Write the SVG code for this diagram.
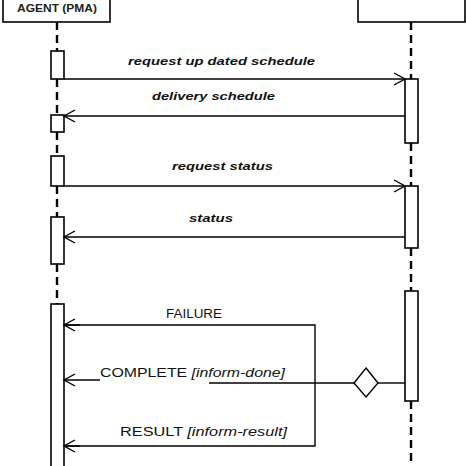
<svg xmlns="http://www.w3.org/2000/svg" width="466" height="466" viewBox="0 0 466 466">
<style>
.box{fill:#fff;stroke:#000;stroke-width:1.6}
.life{stroke:#000;stroke-width:2.4;stroke-dasharray:8 5;fill:none}
.msg{stroke:#000;stroke-width:1.4;fill:none}
.lbl{font-family:"Liberation Sans",Arial,sans-serif;font-size:11px;font-style:italic;font-weight:bold;fill:#111}
.lblr{font-family:"Liberation Sans",Arial,sans-serif;font-size:12px;fill:#111}
.head{font-family:"Liberation Sans",Arial,sans-serif;font-size:10px;font-weight:bold;fill:#222}
</style>
<defs>
<marker id="open" markerWidth="14" markerHeight="14" refX="12" refY="7" orient="auto" markerUnits="userSpaceOnUse">
<path d="M1,1 L12,7 L1,13" fill="none" stroke="#000" stroke-width="1.4"/>
</marker>
</defs>
<g id="lifelines">
<path class="life" d="M57,22 V51 M57,79 V115 M57,132 V156 M57,186 V217 M57,264 V304"/>
<path class="life" d="M411,22 V79 M411,143 V186 M411,248 V291 M411,401 V466"/>
</g>
<g id="agent-pma">
<rect class="box" x="3" y="-5" width="107" height="27"/>
<text class="head" x="57" y="12" text-anchor="middle" textLength="80" lengthAdjust="spacingAndGlyphs">AGENT (PMA)</text>
</g>
<g id="other-agent">
<rect class="box" x="358" y="-5" width="107" height="27"/>
</g>
<g id="activations">
<rect class="box" x="51" y="51" width="13" height="28"/>
<rect class="box" x="51" y="115" width="13" height="17"/>
<rect class="box" x="51" y="156" width="13" height="30"/>
<rect class="box" x="51" y="217" width="13" height="47"/>
<rect class="box" x="51" y="304" width="13" height="170"/>
<rect class="box" x="405" y="79" width="13" height="64"/>
<rect class="box" x="405" y="186" width="13" height="62"/>
<rect class="box" x="405" y="291" width="13" height="110"/>
</g>
<g id="connectors">
<line class="msg" x1="64" y1="79" x2="405" y2="79" marker-end="url(#open)"/>
<line class="msg" x1="405" y1="116" x2="64" y2="116" marker-end="url(#open)"/>
<line class="msg" x1="64" y1="186" x2="405" y2="186" marker-end="url(#open)"/>
<line class="msg" x1="405" y1="237" x2="64" y2="237" marker-end="url(#open)"/>
<line class="msg" x1="405" y1="383" x2="378" y2="383"/>
<path class="msg" d="M366,368 L378,383 L366,397 L354,383 Z" fill="#fff"/>
<line class="msg" x1="354" y1="383" x2="209" y2="383"/>
<line class="msg" x1="100" y1="380" x2="64" y2="380" marker-end="url(#open)"/>
<polyline class="msg" points="64,325 315,325 315,446 64,446"/>
<line class="msg" x1="80" y1="325" x2="64" y2="325" marker-end="url(#open)"/>
<line class="msg" x1="80" y1="446" x2="64" y2="446" marker-end="url(#open)"/>
</g>
<g id="labels">
<text class="lbl" x="128" y="65" textLength="187" lengthAdjust="spacingAndGlyphs">request up dated schedule</text>
<text class="lbl" x="152" y="100" textLength="123" lengthAdjust="spacingAndGlyphs">delivery schedule</text>
<text class="lbl" x="172" y="170" textLength="101" lengthAdjust="spacingAndGlyphs">request status</text>
<text class="lbl" x="189" y="222" textLength="44" lengthAdjust="spacingAndGlyphs">status</text>
<text class="lblr" x="166" y="318" textLength="56" lengthAdjust="spacingAndGlyphs">FAILURE</text>
<text class="lblr" x="100" y="377" textLength="185" lengthAdjust="spacingAndGlyphs">COMPLETE <tspan font-style="italic">[inform-done]</tspan></text>
<text class="lblr" x="120" y="436" textLength="167" lengthAdjust="spacingAndGlyphs">RESULT <tspan font-style="italic">[inform-result]</tspan></text>
</g>
</svg>
